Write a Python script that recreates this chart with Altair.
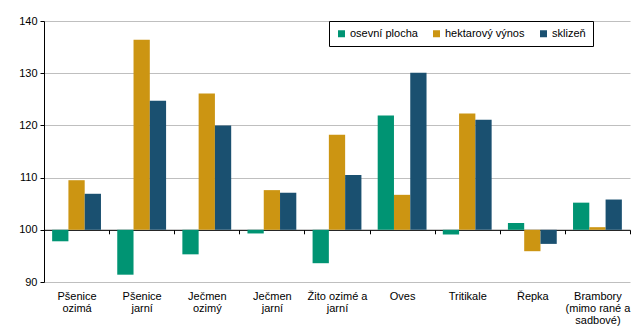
import altair as alt
import pandas as pd

categories = ["Pšenice\nozimá", "Pšenice\njarní", "Ječmen\nozimý", "Ječmen\njarní",
              "Žito ozimé a\njarní", "Oves", "Tritikale", "Řepka",
              "Brambory\n(mimo rané a\nsadbové)"]
series = ["osevní plocha", "hektarový výnos", "sklizeň"]
osevni_plocha = [97.8, 91.4, 95.3, 99.3, 93.6, 121.9, 99.1, 101.3, 105.2]
hektarovy_vynos = [109.5, 136.4, 126.1, 107.6, 118.2, 106.7, 122.3, 95.9, 100.5]
sklizen = [106.9, 124.7, 120.0, 107.1, 110.5, 130.1, 121.1, 97.3, 105.8]
colors = ["#009473", "#CC9512", "#1A5070"]
y_ticks = [90, 100, 110, 120, 130, 140]

rows = []
for vals, s in zip([osevni_plocha, hektarovy_vynos, sklizen], series):
    for c, v in zip(categories, vals):
        rows.append({"kat": c, "rada": s, "hodnota": v})
df = pd.DataFrame(rows)

W, H = 586, 261
FONT = "Liberation Sans"

bars = alt.Chart(df).mark_bar().encode(
    x=alt.X("kat:N", sort=categories, title=None,
            scale=alt.Scale(paddingInner=0, paddingOuter=0),
            axis=alt.Axis(orient="bottom", offset=-H / 5, domainColor="black",
                          domainWidth=1, tickColor="black", tickSize=4,
                          tickBand="extent", labelPadding=57, labelAngle=0,
                          labelExpr="split(datum.label, '\\n')",
                          labelFont=FONT, labelFontSize=11, labelColor="black",
                          labelLineHeight=12, grid=False)),
    xOffset=alt.XOffset("rada:N", sort=series,
                        scale=alt.Scale(paddingInner=0, paddingOuter=0.5)),
    y=alt.Y("hodnota:Q", title=None,
            scale=alt.Scale(domain=[90, 140], nice=False, zero=False),
            axis=alt.Axis(values=y_ticks, domainColor="black", tickColor="black",
                          tickSize=4, gridColor="#BFBFBF", labelFont=FONT,
                          labelFontSize=11, labelColor="black", labelPadding=3)),
    y2=alt.datum(100),
    color=alt.Color("rada:N", sort=series, title=None,
                    scale=alt.Scale(domain=series, range=colors),
                    legend=alt.Legend(orient="none", legendX=285, legendY=0,
                                      direction="horizontal", symbolType="square",
                                      symbolSize=49, symbolStrokeWidth=0,
                                      labelFont=FONT, labelFontSize=11,
                                      labelColor="black", labelOffset=3,
                                      columnPadding=13, padding=7,
                                      strokeColor="black", fillColor="white")),
)

chart = bars.properties(
    width=W, height=H,
    autosize=alt.AutoSizeParams(type="none"),
    padding={"left": 36, "top": 13, "right": 5, "bottom": 45},
).configure_view(stroke=None)

chart.save("out.html", embed_options={"renderer": "svg", "actions": False})
